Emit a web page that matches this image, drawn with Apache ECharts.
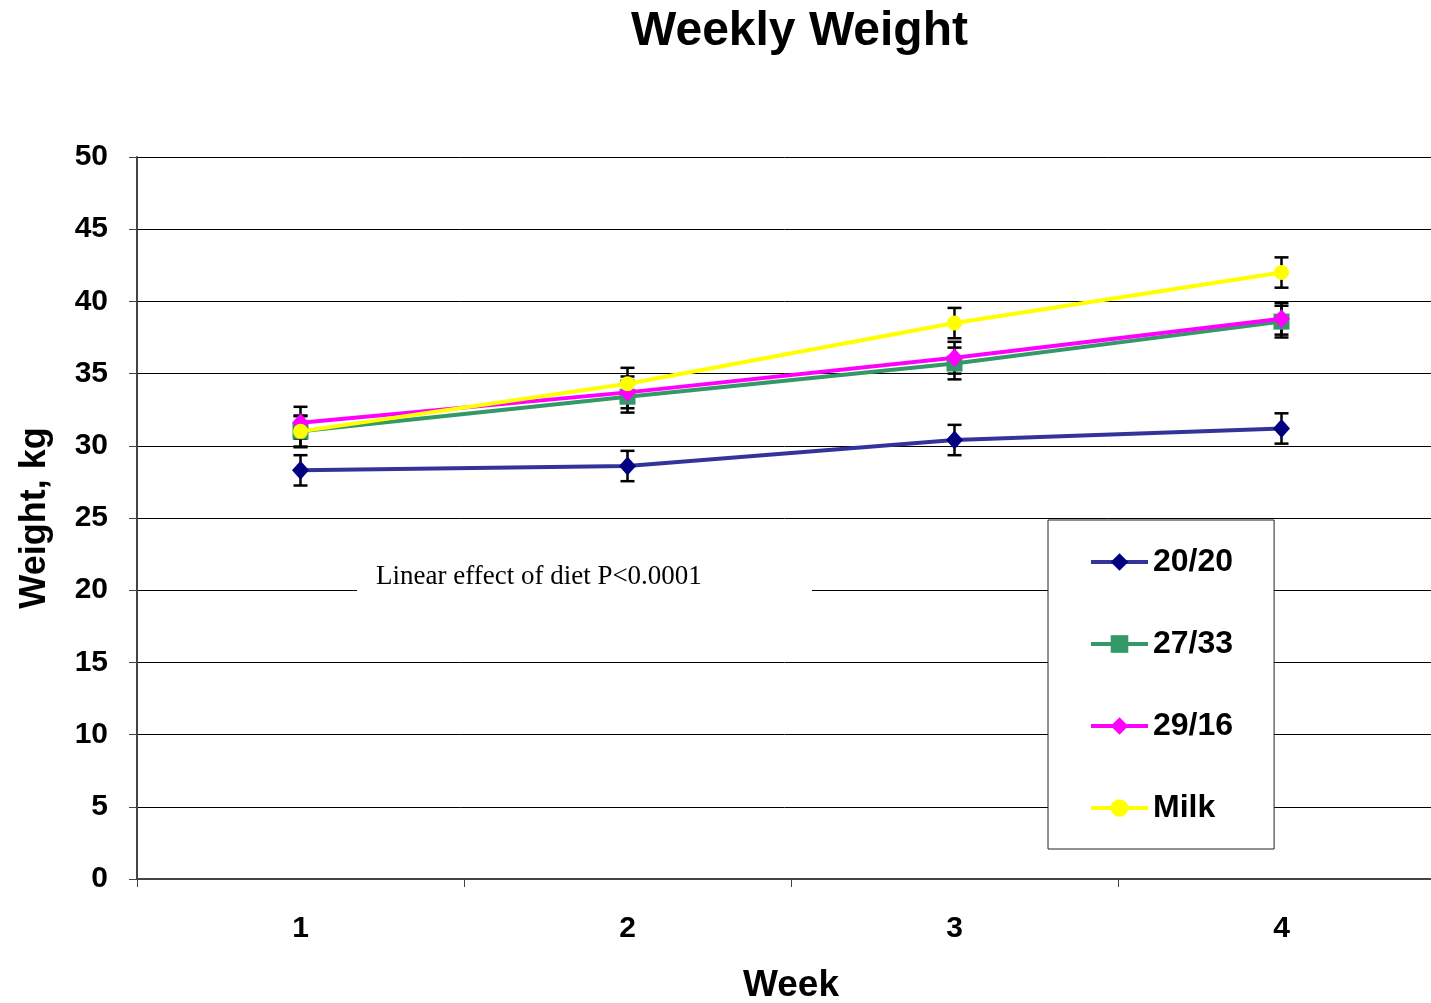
<!DOCTYPE html>
<html><head><meta charset="utf-8">
<script src="https://cdn.jsdelivr.net/npm/echarts@6/dist/echarts.min.js"></script>
<style>html,body{margin:0;padding:0;background:#fff}#c{width:1431px;height:1003px}</style>
</head><body><div id="c"></div>
<script>
const weeks = ['1', '2', '3', '4'];
const yTicks = [0, 5, 10, 15, 20, 25, 30, 35, 40, 45, 50];
const seriesNames = ['20/20', '27/33', '29/16', 'Milk'];
const mean2020 = [28.3, 28.6, 30.4, 31.2];
const mean2733 = [31.0, 33.4, 35.7, 38.6];
const mean2916 = [31.6, 33.7, 36.1, 38.8];
const meanMilk = [31.0, 34.3, 38.5, 42.0];
const err2020 = [1.05, 1.05, 1.05, 1.05];
const err2733 = [1.1, 1.1, 1.1, 1.1];
const err2916 = [1.1, 1.1, 1.1, 1.1];
const errMilk = [1.05, 1.1, 1.05, 1.05];

const means = [mean2020, mean2733, mean2916, meanMilk];
const errs = [err2020, err2733, err2916, errMilk];
const lineColors = ['#333399', '#339966', '#FF00FF', '#FFFF00'];
const markColors = ['#000080', '#339966', '#FF00FF', '#FFFF00'];
const symbols = ['diamond', 'rect', 'diamond', 'circle'];
const symSizes = [[17, 19], 16, [17, 19], 15];

const chart = echarts.init(document.getElementById('c'));
const series = [];
means.forEach((m, i) => {
  series.push({
    type: 'custom', name: seriesNames[i] + ' err', z: 1, silent: true,
    data: m.map((v, k) => [k, v - errs[i][k], v + errs[i][k]]),
    renderItem: function (params, api) {
      const x = api.value(0);
      const lo = api.coord([x, api.value(1)]);
      const hi = api.coord([x, api.value(2)]);
      const hw = 7;
      const st = { stroke: '#000', lineWidth: 2.5 };
      return { type: 'group', children: [
        { type: 'line', shape: { x1: lo[0], y1: lo[1], x2: hi[0], y2: hi[1] }, style: st },
        { type: 'line', shape: { x1: lo[0] - hw, y1: lo[1], x2: lo[0] + hw, y2: lo[1] }, style: st },
        { type: 'line', shape: { x1: hi[0] - hw, y1: hi[1], x2: hi[0] + hw, y2: hi[1] }, style: st }
      ]};
    }
  });
});
means.forEach((m, i) => {
  series.push({
    type: 'line', name: seriesNames[i], data: m, z: 3 + i,
    symbol: symbols[i], symbolSize: symSizes[i], showAllSymbol: true,
    lineStyle: { color: lineColors[i], width: 4 },
    itemStyle: { color: markColors[i] },
    emphasis: { disabled: true }
  });
});

chart.setOption({
  animation: false,
  backgroundColor: '#fff',
  title: {
    text: 'Weekly Weight', left: 631, top: 8, padding: 0,
    textStyle: { fontFamily: 'Liberation Sans', fontWeight: 'bold', fontSize: 48, color: '#000' }
  },
  grid: { left: 137, top: 157, width: 1308, height: 722, containLabel: false, outerBoundsMode: 'none' },
  legend: {
    data: seriesNames,
    orient: 'vertical', left: 1048, top: 520,
    padding: [24, 41, 23, 41],
    itemWidth: 57, itemHeight: 22, itemGap: 46, itemTextGap: 7,
    lineStyle: { width: 4 },
    backgroundColor: '#fff', borderColor: '#222', borderWidth: 1, borderRadius: 0,
    textStyle: { fontFamily: 'Liberation Sans', fontWeight: 'bold', fontSize: 32, color: '#000', lineHeight: 36 }
  },
  xAxis: {
    type: 'category', data: weeks, boundaryGap: true,
    name: 'Week', nameLocation: 'middle', nameGap: 88,
    nameTextStyle: { fontFamily: 'Liberation Sans', fontWeight: 'bold', fontSize: 37, color: '#000' },
    axisLine: { lineStyle: { color: '#444', width: 2 } },
    axisTick: { show: true, length: 8, lineStyle: { color: '#444', width: 1 } },
    axisLabel: { margin: 35, fontFamily: 'Liberation Sans', fontWeight: 'bold', fontSize: 30, color: '#000' },
    splitLine: { show: false }
  },
  yAxis: {
    type: 'value', min: yTicks[0], max: yTicks[yTicks.length - 1], interval: 5,
    name: 'Weight, kg', nameLocation: 'middle', nameGap: 84,
    nameTextStyle: { fontFamily: 'Liberation Sans', fontWeight: 'bold', fontSize: 36, color: '#000' },
    axisLine: { show: true, lineStyle: { color: '#444', width: 2 } },
    axisTick: { show: true, length: 8, lineStyle: { color: '#444', width: 1 } },
    axisLabel: { margin: 29, fontFamily: 'Liberation Sans', fontWeight: 'bold', fontSize: 30, color: '#000' },
    splitLine: { show: true, lineStyle: { color: '#000', width: 1 } }
  },
  graphic: [
    { type: 'rect', left: 357, top: 560, z: 50, shape: { width: 455, height: 36 }, style: { fill: '#fff' } },
    { type: 'text', left: 376, top: 563, z: 51,
      style: { text: 'Linear effect of diet P<0.0001', fill: '#000', font: '27px "Liberation Serif"' } }
  ],
  series: series
});
</script></body></html>
